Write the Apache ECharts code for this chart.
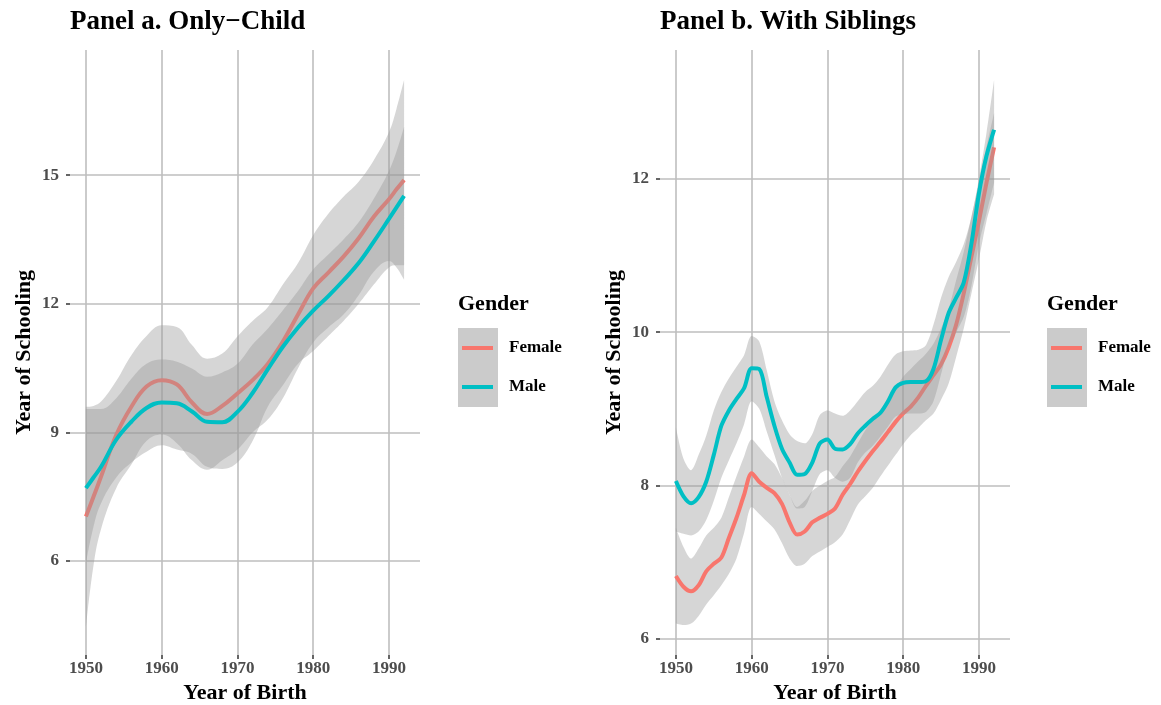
<!DOCTYPE html>
<html>
<head>
<meta charset="utf-8">
<script src="https://cdn.jsdelivr.net/npm/echarts@6/dist/echarts.min.js"></script>
<style>
  html, body { margin: 0; padding: 0; background: #fff; }
  #main { width: 1161px; height: 705px; }
</style>
</head>
<body>
<div id="main"></div>
<script>
// Tick labels
const xTicks = [1950, 1960, 1970, 1980, 1990];
const yTicksA = [6, 9, 12, 15];
const yTicksB = [6, 8, 10, 12];

// Panel a. Only-Child (smoothed fit and confidence band)
const yearsA = [1950, 1951, 1952, 1954, 1956, 1958, 1960, 1962, 1964, 1966, 1968, 1970,
  1972, 1974, 1976, 1978, 1980, 1982, 1984, 1986, 1988, 1990, 1991, 1992];
const aFemaleFit = [7.04, 7.50, 7.97, 8.94, 9.60, 10.07, 10.22, 10.12, 9.70, 9.43, 9.62, 9.91,
  10.22, 10.60, 11.12, 11.75, 12.36, 12.73, 13.10, 13.53, 14.03, 14.44, 14.67, 14.89];
const aFemaleLow = [4.45, 5.9, 6.75, 7.7, 8.25, 8.8, 8.95, 8.75, 8.35, 8.13, 8.35, 8.6,
  9.0, 9.3, 9.8, 10.5, 11.1, 11.45, 11.75, 12.2, 12.75, 13.0, 12.85, 12.56];
const aFemaleHigh = [9.6, 9.62, 9.72, 10.2, 10.8, 11.25, 11.5, 11.46, 11.04, 10.72, 10.84, 11.24,
  11.6, 11.92, 12.45, 12.95, 13.6, 14.1, 14.5, 14.85, 15.35, 16.0, 16.55, 17.22];
const aMaleFit = [7.70, 7.95, 8.20, 8.83, 9.25, 9.57, 9.70, 9.68, 9.49, 9.25, 9.24, 9.48,
  9.92, 10.47, 11.0, 11.45, 11.84, 12.18, 12.55, 12.95, 13.45, 13.98, 14.25, 14.52];
const aMaleLow = [5.95, 6.8, 7.35, 7.95, 8.3, 8.55, 8.7, 8.6, 8.5, 8.2, 8.15, 8.3,
  8.8, 9.6, 10.1, 10.6, 10.9, 11.25, 11.6, 12.0, 12.45, 12.85, 12.9, 12.9];
const aMaleHigh = [9.55, 9.55, 9.55, 9.8, 10.25, 10.6, 10.7, 10.65, 10.49, 10.3, 10.4, 10.6,
  11.05, 11.42, 11.85, 12.3, 12.8, 13.15, 13.5, 13.9, 14.45, 15.1, 15.55, 16.13];

// Panel b. With Siblings (yearly)
const yearsB = [1950, 1951, 1952, 1953, 1954, 1955, 1956, 1957, 1958, 1959,
  1960, 1961, 1962, 1963, 1964, 1965, 1966, 1967, 1968, 1969,
  1970, 1971, 1972, 1973, 1974, 1975, 1976, 1977, 1978, 1979,
  1980, 1981, 1982, 1983, 1984, 1985, 1986, 1987, 1988, 1989,
  1990, 1991, 1992];
const bFemaleFit = [6.82, 6.68, 6.62, 6.70, 6.88, 6.98, 7.06, 7.32, 7.58, 7.88,
  8.16, 8.05, 7.97, 7.90, 7.76, 7.52, 7.36, 7.40, 7.52, 7.58,
  7.63, 7.70, 7.88, 8.02, 8.18, 8.32, 8.45, 8.57, 8.70, 8.83,
  8.94, 9.03, 9.15, 9.30, 9.44, 9.58, 9.80, 10.10, 10.51, 10.98,
  11.45, 11.95, 12.41];
const bFemaleLow = [6.2, 6.18, 6.2, 6.3, 6.45, 6.57, 6.7, 6.85, 7.05, 7.38,
  7.72, 7.63, 7.53, 7.43, 7.25, 7.05, 6.95, 6.98, 7.08, 7.14,
  7.2, 7.26, 7.36, 7.55, 7.75, 7.86, 7.97, 8.12, 8.26, 8.4,
  8.54, 8.66, 8.75, 8.85, 8.94, 9.12, 9.33, 9.68, 10.05, 10.5,
  10.95, 11.45, 11.8];
const bFemaleHigh = [7.45, 7.2, 7.05, 7.18, 7.35, 7.45, 7.58, 7.85, 8.12, 8.38,
  8.6, 8.5, 8.38, 8.28, 8.1, 7.88, 7.72, 7.8, 7.93, 8.0,
  8.06, 8.11, 8.25, 8.38, 8.55, 8.72, 8.85, 8.98, 9.12, 9.27,
  9.42, 9.52, 9.62, 9.72, 9.85, 10.05, 10.3, 10.68, 11.05, 11.5,
  11.95, 12.42, 12.86];
const bMaleFit = [8.06, 7.86, 7.77, 7.85, 8.05, 8.40, 8.78, 8.98, 9.13, 9.27,
  9.53, 9.52, 9.15, 8.78, 8.48, 8.30, 8.14, 8.15, 8.30, 8.55,
  8.60, 8.48, 8.47, 8.54, 8.68, 8.78, 8.87, 8.95, 9.10, 9.28,
  9.34, 9.35, 9.35, 9.36, 9.52, 9.90, 10.25, 10.45, 10.65, 11.15,
  11.81, 12.30, 12.64];
const bMaleLow = [7.4, 7.37, 7.35, 7.4, 7.55, 7.8, 8.1, 8.33, 8.55, 8.8,
  9.1, 9.0, 8.7, 8.4, 8.1, 7.88, 7.7, 7.72, 7.93, 8.15,
  8.2, 8.1, 8.05, 8.1, 8.3, 8.43, 8.52, 8.64, 8.77, 8.9,
  8.93, 8.94, 8.94, 8.96, 9.1, 9.45, 9.8, 10.0, 10.2, 10.6,
  11.15, 11.55, 11.95];
const bMaleHigh = [8.76, 8.35, 8.2, 8.4, 8.65, 8.98, 9.22, 9.4, 9.55, 9.7,
  9.95, 9.88, 9.5, 9.1, 8.85, 8.67, 8.58, 8.55, 8.67, 8.92,
  8.98, 8.94, 8.91, 8.98, 9.1, 9.22, 9.3, 9.42, 9.58, 9.71,
  9.75, 9.76, 9.77, 9.83, 10.1, 10.45, 10.72, 10.92, 11.15, 11.5,
  12.0, 12.6, 13.29];

const serif = "'Liberation Serif', 'DejaVu Serif', serif";
const femaleColor = "#F8766D";
const maleColor = "#00BFC4";
const bandFill = "#999999";

function pairs(xs, ys) {
  return xs.map((x, i) => [x, ys[i]]);
}

// ribbon = invisible lower line + stacked band (high - low).
// Values go in column 0 so the stack runs on y, not on x.
function ribbon(id, xs, lo, hi, axis, smooth, z) {
  const common = {
    type: "line", xAxisIndex: axis, yAxisIndex: axis, stack: id,
    encode: { x: 1, y: 0 }, smooth, showSymbol: false, silent: true,
    lineStyle: { width: 0, opacity: 0 }, z,
  };
  return [
    Object.assign({ id: id + "Low", data: xs.map((x, i) => [lo[i], x]) }, common),
    Object.assign({
      id: id + "Band",
      data: xs.map((x, i) => [+(hi[i] - lo[i]).toFixed(3), x]),
      areaStyle: { color: bandFill, opacity: 0.4 },
    }, common),
  ];
}

// female group first, male group drawn over it (as ggplot does)
function fitLine(id, xs, ys, axis, color, smooth, z) {
  return {
    type: "line", id, xAxisIndex: axis, yAxisIndex: axis,
    data: pairs(xs, ys), smooth, showSymbol: false, silent: true,
    lineStyle: { color, width: 4 }, z,
  };
}

const tickStyle = { show: true, length: 4, lineStyle: { color: "#333", width: 1.5 } };
const labelStyle = { color: "#4d4d4d", fontFamily: serif, fontWeight: "bold", fontSize: 17 };
const gridLine = { show: true, lineStyle: { color: "#bebebe", width: 1.6 } };
const nameStyle = { color: "#000", fontFamily: serif, fontWeight: "bold", fontSize: 22 };

function xAxisFor(grid) {
  return {
    type: "value", gridIndex: grid, min: 1947.9, max: 1994.1, minInterval: 10, maxInterval: 10,
    axisLine: { show: false },
    axisTick: Object.assign({ customValues: xTicks }, tickStyle),
    axisLabel: Object.assign({ margin: 5, customValues: xTicks, formatter: (v) => String(v) }, labelStyle),
    splitLine: gridLine,
    name: "Year of Birth", nameLocation: "middle", nameGap: 26, nameTextStyle: nameStyle,
  };
}

function yAxisFor(grid, min, max, step, ticks) {
  return {
    type: "value", gridIndex: grid, min, max, minInterval: step, maxInterval: step,
    axisLine: { show: false },
    axisTick: Object.assign({ customValues: ticks }, tickStyle),
    axisLabel: Object.assign({ margin: 11, customValues: ticks, formatter: (v) => String(v) }, labelStyle),
    splitLine: gridLine,
    name: "Year of Schooling", nameLocation: "middle", nameGap: 35, nameTextStyle: nameStyle,
  };
}

function legendAt(x) {
  const label = { fontFamily: serif, fontWeight: "bold", fill: "#000" };
  return {
    type: "group", left: x, top: 293,
    children: [
      { type: "text", x: 0, y: 0, style: Object.assign({ text: "Gender", fontSize: 22 }, label) },
      { type: "rect", shape: { x: 0, y: 35, width: 40, height: 79 }, style: { fill: "#cbcbcb" } },
      { type: "line", shape: { x1: 4, y1: 55, x2: 35, y2: 55 }, style: { stroke: femaleColor, lineWidth: 4 } },
      { type: "line", shape: { x1: 4, y1: 94, x2: 35, y2: 94 }, style: { stroke: maleColor, lineWidth: 4 } },
      { type: "text", x: 51, y: 55, style: Object.assign({ text: "Female", fontSize: 17, verticalAlign: "middle" }, label) },
      { type: "text", x: 51, y: 94, style: Object.assign({ text: "Male", fontSize: 17, verticalAlign: "middle" }, label) },
    ],
  };
}

const chart = echarts.init(document.getElementById("main"));
chart.setOption({
  animation: false,
  backgroundColor: "#fff",
  title: [
    { text: "Panel a. Only\u2212Child", left: 70, top: 9, padding: 0,
      textStyle: { fontFamily: serif, fontWeight: "bold", fontSize: 27, color: "#000" } },
    { text: "Panel b. With Siblings", left: 660, top: 9, padding: 0,
      textStyle: { fontFamily: serif, fontWeight: "bold", fontSize: 27, color: "#000" } },
  ],
  grid: [
    { left: 70, top: 50, width: 350, height: 605, outerBoundsMode: "none", containLabel: false },
    { left: 660, top: 50, width: 350, height: 605, outerBoundsMode: "none", containLabel: false },
  ],
  xAxis: [xAxisFor(0), xAxisFor(1)],
  yAxis: [yAxisFor(0, 3.81, 17.92, 3, yTicksA), yAxisFor(1, 5.79, 13.68, 2, yTicksB)],
  series: [
    ...ribbon("aF", yearsA, aFemaleLow, aFemaleHigh, 0, 0.4, 2),
    fitLine("aFemale", yearsA, aFemaleFit, 0, femaleColor, 0.4, 2),
    ...ribbon("aM", yearsA, aMaleLow, aMaleHigh, 0, 0.4, 3),
    fitLine("aMale", yearsA, aMaleFit, 0, maleColor, 0.4, 3),
    ...ribbon("bF", yearsB, bFemaleLow, bFemaleHigh, 1, 0.3, 2),
    fitLine("bFemale", yearsB, bFemaleFit, 1, femaleColor, 0.3, 2),
    ...ribbon("bM", yearsB, bMaleLow, bMaleHigh, 1, 0.3, 3),
    fitLine("bMale", yearsB, bMaleFit, 1, maleColor, 0.3, 3),
  ],
  graphic: [legendAt(458), legendAt(1047)],
});
</script>
</body>
</html>
